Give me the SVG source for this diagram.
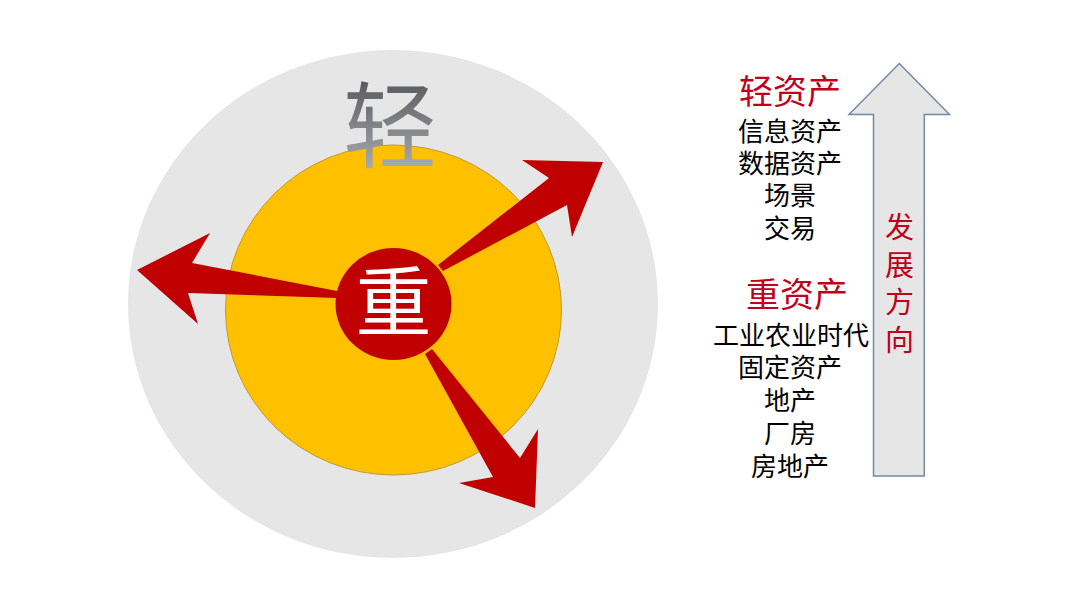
<svg xmlns="http://www.w3.org/2000/svg" width="1080" height="608" viewBox="0 0 1080 608">
<defs>
<linearGradient id="gQing" x1="0" y1="0" x2="0" y2="1">
<stop offset="0" stop-color="#55575b"/>
<stop offset="1" stop-color="#b4b6b9"/>
</linearGradient>
<style>
.cjk{font-family:"Liberation Serif","Noto Sans CJK SC",serif;}
.item{font-size:26px;fill:#000;text-anchor:middle;}
.head{font-size:34px;fill:#c0001a;text-anchor:middle;}
.dir{font-size:29px;fill:#c0001a;text-anchor:middle;}
.arrow{fill:#c00000;}
</style>
</defs>
<rect width="1080" height="608" fill="#ffffff"/>
<g id="outer-circle">
<ellipse cx="393" cy="304" rx="265" ry="254" fill="#e6e6e6"/>
</g>
<g id="middle-circle">
<ellipse cx="393.5" cy="310" rx="168" ry="165" fill="#ffc000" stroke="#c09a30" stroke-width="1"/>
</g>
<g id="label-qing">
<text class="cjk" x="390" y="161" font-size="94" text-anchor="middle" fill="url(#gQing)">轻</text>
</g>
<g id="connectors">
<polygon class="arrow" points="438,265 549,178 522,160 603,162 572,237 567,205 443,271"/>
<polygon class="arrow" points="337,291 192,263 210,233 137,270 198,324 188,293 337,298"/>
<polygon class="arrow" points="432,349 520,458 538,429 535,508 459,483 493,477 425,354"/>
</g>
<g id="center-circle">
<ellipse cx="393.5" cy="304" rx="58" ry="56" fill="#c00000"/>
<text class="cjk" x="393.5" y="330" font-size="76" text-anchor="middle" fill="#ffffff">重</text>
</g>
<g id="light-assets">
<text class="cjk head" x="790" y="104">轻资产</text>
<text class="cjk item" x="790" y="141">信息资产</text>
<text class="cjk item" x="790" y="173">数据资产</text>
<text class="cjk item" x="790" y="205">场景</text>
<text class="cjk item" x="790" y="238">交易</text>
</g>
<g id="heavy-assets">
<text class="cjk head" x="797" y="307">重资产</text>
<text class="cjk item" x="791" y="345">工业农业时代</text>
<text class="cjk item" x="790" y="377">固定资产</text>
<text class="cjk item" x="790" y="410">地产</text>
<text class="cjk item" x="790" y="443">厂房</text>
<text class="cjk item" x="790" y="476">房地产</text>
</g>
<g id="direction-arrow">
<polygon points="899.3,63.5 949.5,114.5 924.3,114.5 924.3,476 873.5,476 873.5,114.5 849,114.5" fill="#e6e6e6" stroke="#7289a8" stroke-width="1.5" stroke-linejoin="miter"/>
<text class="cjk dir" x="899.5" y="238">发</text>
<text class="cjk dir" x="899.5" y="275.5">展</text>
<text class="cjk dir" x="899.5" y="313">方</text>
<text class="cjk dir" x="899.5" y="350.5">向</text>
</g>
</svg>
